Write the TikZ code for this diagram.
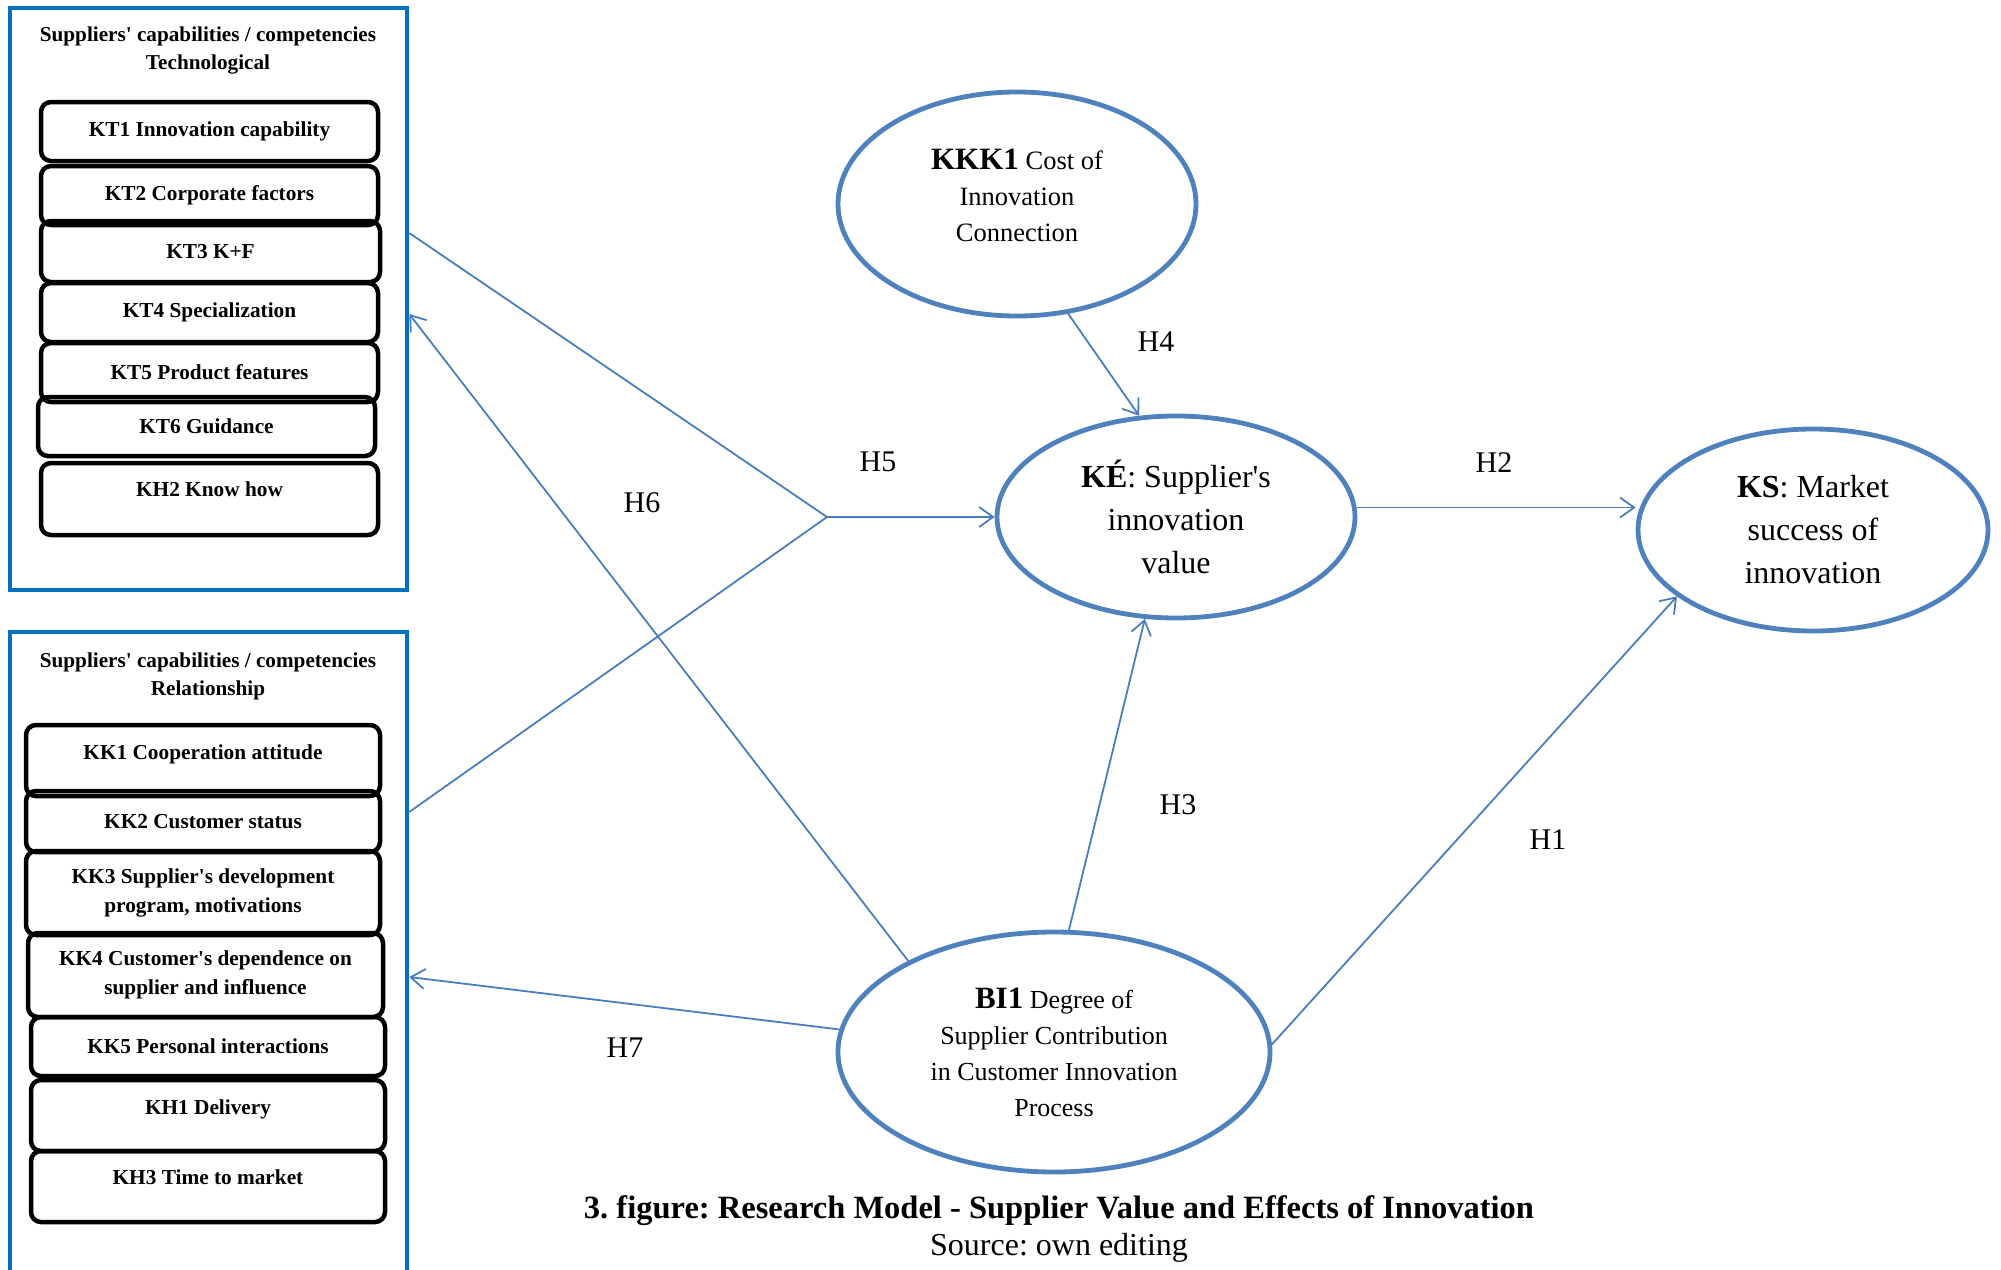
\documentclass[tikz,border=0pt]{standalone}
\usepackage{fontspec}
\setmainfont{Liberation Serif}
\usetikzlibrary{shapes.geometric,arrows.meta}
\definecolor{panelblue}{HTML}{0070C0}
\definecolor{ellblue}{HTML}{4F81BD}
\definecolor{arrblue}{HTML}{4A7EBB}
\newcommand{\ap}{\textquotesingle}
\frenchspacing

\begin{document}
\begin{tikzpicture}[x=1pt,y=-1pt,
  panel/.style={draw=panelblue,line width=4.5pt,inner sep=0pt},
  item/.style={draw,line width=4.5pt,rounded corners=10pt,inner sep=0pt,align=center,font=\fontsize{21.3}{29}\selectfont\bfseries},
  ptitle/.style={align=center,font=\fontsize{21.2}{28}\selectfont\bfseries},
  construct/.style={ellipse,draw=ellblue,line width=4.8pt,inner sep=0pt,align=center},
  link/.style={draw=arrblue,line width=1.8pt},
  hyp/.style={link,-{Straight Barb[length=14pt,width=20pt]}},
  hlab/.style={font=\fontsize{30}{36}\selectfont}]
  \useasboundingbox (0,0) rectangle (2001,1269);
  \node[panel,minimum width=397pt,minimum height=582pt] (tech) at (208.5,299) {};
  \node[panel,minimum width=397pt,minimum height=658pt] (rel) at (208.5,961) {};
  \node[ptitle] (techt) at (208,50) {Suppliers\ap\ capabilities / competencies\\Technological};
  \node[ptitle] (relt) at (208,676) {Suppliers\ap\ capabilities / competencies\\Relationship};
  \node[item,minimum width=337pt,minimum height=59pt] (kt1) at (209.5,131.5) {KT1 Innovation capability};
  \node[item,minimum width=337pt,minimum height=59pt] (kt2) at (209.5,195.5) {KT2 Corporate factors};
  \node[item,minimum width=339pt,minimum height=61pt] (kt3) at (210.5,251.5) {KT3 K+F};
  \node[item,minimum width=337pt,minimum height=59pt] (kt4) at (209.5,312.5) {KT4 Specialization};
  \node[item,minimum width=337pt,minimum height=59pt] (kt5) at (209.5,372.5) {KT5 Product features};
  \node[item,minimum width=337pt,minimum height=59pt] (kt6) at (206.5,426.5) {KT6 Guidance};
  \node[item,minimum width=337pt,minimum height=72pt,text depth=20pt] (kh2) at (209.5,499) {KH2 Know how};
  \node[item,minimum width=354pt,minimum height=71pt,text depth=17pt] (kk1) at (203,760.5) {KK1 Cooperation attitude};
  \node[item,minimum width=354pt,minimum height=61pt] (kk2) at (203,821.5) {KK2 Customer status};
  \node[item,minimum width=354pt,minimum height=84pt] (kk3) at (203,893) {KK3 Supplier\ap s development\\program, motivations};
  \node[item,minimum width=355pt,minimum height=84pt] (kk4) at (205.5,975) {KK4 Customer\ap s dependence on\\supplier and influence};
  \node[item,minimum width=354pt,minimum height=59pt] (kk5) at (208,1046.5) {KK5 Personal interactions};
  \node[item,minimum width=354pt,minimum height=71pt,text depth=17pt] (kh1) at (208,1115.5) {KH1 Delivery};
  \node[item,minimum width=354pt,minimum height=71pt,text depth=19pt] (kh3) at (208,1186.5) {KH3 Time to market};

  \node[construct,minimum width=358pt,minimum height=224pt,font=\fontsize{26.5}{36}\selectfont] (kkk) at (1017,204) {{\fontsize{31}{36}\selectfont\bfseries KKK1} Cost of\\Innovation\\Connection\\[-18pt]};
  \node[construct,minimum width=358pt,minimum height=202pt,font=\fontsize{32}{43}\selectfont] (ke) at (1176,517) {\textbf{KÉ}: Supplier\ap s\\innovation\\value};
  \node[construct,minimum width=350pt,minimum height=202pt,font=\fontsize{32}{43}\selectfont] (ks) at (1813,530) {\textbf{KS}: Market\\success of\\innovation};
  \node[construct,minimum width=432pt,minimum height=240pt,font=\fontsize{26}{36}\selectfont] (bi) at (1054,1052) {{\fontsize{31}{36}\selectfont\bfseries BI1} Degree of\\Supplier Contribution\\in Customer Innovation\\Process};

  \coordinate (t5) at ([yshift=66pt]tech.east); \coordinate (r5) at ([yshift=149pt]rel.east);
  \coordinate (j5) at (827,517);
  \draw[link] (t5) -- (j5); \draw[link] (r5) -- (j5); \draw[hyp] (j5) -- (ke.west);
  \draw[hyp] (kkk.-65) -- (ke.110);
  \draw[hyp] (ke.3) -- (ke.3 -| ks.west);
  \draw[hyp] (bi.83) -- (ke.-107);
  \draw[hyp] (bi.2) -- (ks.206);
  \draw[hyp] (bi.148) -- ([yshift=-15pt]tech.east);
  \draw[hyp] (bi.174) -- ([yshift=-16pt]rel.east);

  \node[hlab] (h1) at (1548,840) {H1}; \node[hlab] (h2) at (1494,463) {H2};
  \node[hlab] (h3) at (1178,805) {H3}; \node[hlab] (h4) at (1156,342) {H4};
  \node[hlab] (h5) at (878,462) {H5}; \node[hlab] (h6) at (642,503) {H6};
  \node[hlab] (h7) at (625,1048) {H7};
  \node[font=\fontsize{32.5}{36}\selectfont\bfseries] (cap) at (1059,1211) {3. figure: Research Model - Supplier Value and Effects of Innovation};
  \node[font=\fontsize{32}{36}\selectfont] (src) at (1059,1248) {Source: own editing};
\end{tikzpicture}
\end{document}
